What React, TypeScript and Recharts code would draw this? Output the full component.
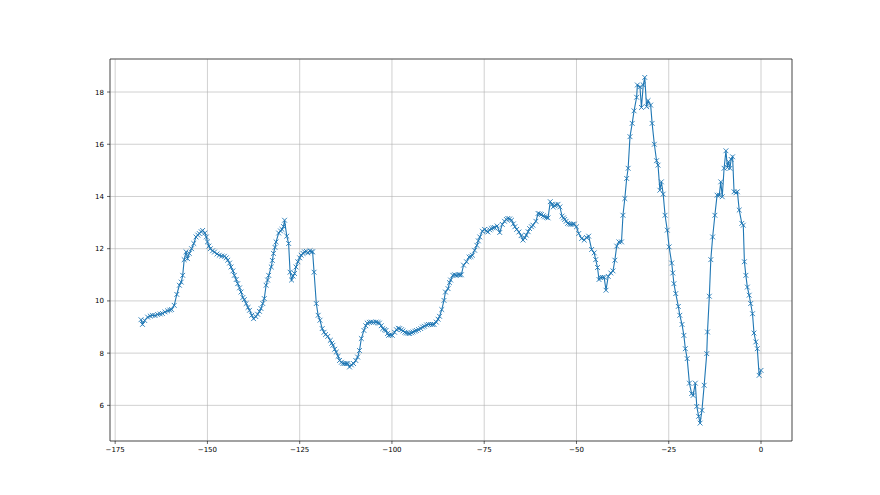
import React from 'react';
import { LineChart, Line, XAxis, YAxis, CartesianGrid, ReferenceArea } from 'recharts';

const xValues: number[] = [
  -168.0, -167.6, -167.0, -166.2, -165.5, -164.9, -164.2, -163.5, -162.8, -162.2,
  -161.5, -160.8, -160.2, -159.7, -159.0, -158.3, -157.6, -157.1, -156.7, -156.3,
  -155.8, -155.4, -154.9, -154.3, -153.7, -153.1, -152.6, -152.2, -151.7, -151.3,
  -150.7, -150.3, -150.0, -149.6, -149.2, -148.6, -148.1, -147.4, -146.8, -146.1,
  -145.4, -144.9, -144.5, -144.0, -143.6, -143.1, -142.7, -142.2, -141.8, -141.3,
  -140.9, -140.4, -140.0, -139.5, -139.0, -138.6, -138.0, -137.5, -136.9, -136.4,
  -135.9, -135.5, -135.0, -134.6, -134.1, -133.7, -133.4, -132.7, -132.4, -132.1,
  -131.7, -131.4, -130.7, -130.2, -129.8, -129.4, -129.1, -128.5, -128.0, -127.6,
  -127.2, -126.8, -126.4, -126.0, -125.5, -125.0, -124.6, -124.1, -123.7, -123.2,
  -122.8, -122.2, -121.8, -121.5, -121.1, -120.5, -120.0, -119.5, -118.9, -118.4,
  -118.0, -117.4, -116.7, -116.3, -116.0, -115.5, -115.1, -114.6, -114.2, -113.7,
  -113.3, -112.8, -112.4, -112.0, -111.5, -111.0, -110.4, -109.8, -109.3, -108.8,
  -108.3, -107.6, -107.1, -106.7, -106.1, -105.6, -105.0, -104.3, -103.8, -103.4,
  -102.9, -102.5, -102.0, -101.6, -101.2, -100.9, -100.4, -99.9, -99.3, -98.8,
  -98.3, -97.9, -97.4, -97.0, -96.5, -96.1, -95.6, -95.2, -94.7, -94.3,
  -93.8, -93.4, -92.8, -92.2, -91.7, -91.2, -90.6, -90.1, -89.5, -89.0,
  -88.6, -88.0, -87.5, -87.1, -86.5, -85.9, -85.5, -84.8, -84.4, -84.1,
  -83.5, -83.0, -82.6, -82.0, -81.6, -81.2, -80.6, -79.8, -79.1, -78.6,
  -78.2, -77.6, -77.0, -76.6, -76.2, -75.5, -74.9, -74.4, -74.0, -73.5,
  -73.1, -72.6, -72.2, -71.5, -70.8, -70.1, -69.5, -69.0, -68.6, -68.1,
  -67.6, -67.1, -66.7, -66.2, -65.6, -65.0, -64.5, -64.0, -63.6, -63.1,
  -62.7, -62.2, -61.8, -61.0, -60.4, -59.9, -59.5, -59.0, -58.6, -58.1,
  -57.7, -57.1, -56.6, -56.3, -55.9, -55.6, -55.0, -54.5, -53.9, -53.5,
  -53.2, -52.8, -52.4, -51.9, -51.5, -51.0, -50.6, -50.0, -49.4, -48.6,
  -47.9, -47.3, -46.7, -45.9, -45.2, -44.8, -44.3, -43.9, -43.5, -43.0,
  -42.5, -42.0, -41.4, -40.7, -40.1, -39.6, -39.1, -38.5, -37.8, -37.4,
  -36.9, -36.4, -36.0, -35.5, -34.9, -34.4, -33.7, -33.5, -32.8, -32.4,
  -31.9, -31.5, -31.0, -30.6, -29.9, -29.5, -28.9, -28.3, -27.9, -27.4,
  -27.0, -26.5, -26.0, -25.4, -24.9, -24.2, -23.9, -23.6, -23.1, -22.4,
  -22.0, -21.4, -20.9, -20.5, -20.0, -19.4, -18.8, -18.4, -17.8, -17.4,
  -16.9, -16.5, -16.0, -15.4, -14.7, -14.5, -14.0, -13.6, -13.1, -12.5,
  -11.9, -11.3, -10.9, -10.5, -10.0, -9.5, -9.1, -8.8, -8.4, -8.1,
  -7.7, -7.3, -6.8, -6.4, -5.9, -5.2, -4.8, -4.5, -4.1, -3.7,
  -3.2, -2.8, -2.3, -1.9, -1.4, -1.0, -0.5, 0.0,
];

const yValues: number[] = [
  9.28, 9.10, 9.25, 9.38, 9.42, 9.45, 9.44, 9.48, 9.50, 9.52,
  9.58, 9.62, 9.65, 9.67, 9.83, 10.25, 10.6, 10.72, 10.98, 11.58,
  11.88, 11.62, 11.82, 12.0, 12.2, 12.45, 12.52, 12.58, 12.65, 12.7,
  12.6, 12.45, 12.26, 12.1, 12.0, 11.92, 11.87, 11.8, 11.75, 11.72,
  11.71, 11.65, 11.56, 11.45, 11.3, 11.15, 10.98, 10.82, 10.66, 10.5,
  10.34, 10.13, 10.05, 9.9, 9.75, 9.64, 9.45, 9.32, 9.40, 9.49,
  9.6, 9.71, 9.9, 10.09, 10.6, 10.8, 10.98, 11.3, 11.55, 11.82,
  12.05, 12.26, 12.6, 12.68, 12.74, 12.85, 13.09, 12.48, 12.2, 11.1,
  10.8, 10.95, 11.05, 11.3, 11.5, 11.65, 11.75, 11.82, 11.88, 11.9,
  11.84, 11.92, 11.88, 11.88, 11.1, 9.9, 9.45, 9.26, 8.94, 8.8,
  8.71, 8.64, 8.49, 8.38, 8.3, 8.15, 8.04, 7.88, 7.72, 7.65,
  7.6, 7.6, 7.6, 7.6, 7.47, 7.55, 7.6, 7.72, 7.85, 8.1,
  8.56, 8.87, 9.05, 9.15, 9.18, 9.19, 9.18, 9.19, 9.17, 9.15,
  9.05, 8.94, 8.9, 8.87, 8.75, 8.68, 8.7, 8.68, 8.8, 8.9,
  8.95, 8.94, 8.9, 8.85, 8.8, 8.77, 8.76, 8.75, 8.78, 8.81,
  8.84, 8.87, 8.9, 8.94, 9.0, 9.03, 9.08, 9.1, 9.1, 9.1,
  9.1, 9.19, 9.3, 9.41, 9.67, 10.02, 10.34, 10.47, 10.7, 10.8,
  10.98, 11.0, 10.98, 11.0, 11.0, 11.0, 11.37, 11.5, 11.68, 11.7,
  11.75, 11.94, 12.13, 12.3, 12.45, 12.67, 12.74, 12.68, 12.64, 12.72,
  12.77, 12.8, 12.81, 12.87, 12.62, 12.93, 13.05, 13.12, 13.16, 13.14,
  13.09, 12.95, 12.84, 12.74, 12.64, 12.5, 12.33, 12.42, 12.52, 12.65,
  12.77, 12.84, 12.9, 13.05, 13.35, 13.33, 13.31, 13.26, 13.22, 13.2,
  13.18, 13.8, 13.7, 13.6, 13.65, 13.69, 13.7, 13.6, 13.25, 13.18,
  13.12, 13.05, 12.97, 12.95, 12.93, 12.94, 12.94, 12.84, 12.58, 12.39,
  12.33, 12.43, 12.48, 11.97, 11.84, 11.58, 11.28, 10.82, 10.9, 10.9,
  10.9, 10.41, 10.94, 11.07, 11.15, 11.56, 12.1, 12.26, 12.26, 13.28,
  13.92, 14.69, 15.08, 16.29, 16.8, 17.28, 17.8, 18.27, 18.2, 17.41,
  18.27, 18.56, 17.44, 17.67, 17.5, 16.8, 16.0, 15.37, 15.2, 14.24,
  14.56, 14.09, 13.28, 12.71, 12.07, 11.45, 11.07, 10.66, 10.28, 9.79,
  9.45, 9.1, 8.68, 8.17, 7.79, 6.85, 6.45, 6.38, 6.85, 5.96,
  5.58, 5.32, 5.81, 6.77, 7.98, 8.81, 10.18, 11.58, 12.45, 13.28,
  14.05, 14.05, 14.56, 13.99, 15.08, 15.75, 15.11, 15.33, 15.08, 15.42,
  15.52, 14.18, 14.14, 14.18, 13.48, 12.97, 12.9, 11.5, 10.98, 10.53,
  10.22, 9.9, 9.51, 8.77, 8.43, 8.17, 7.15, 7.34,
];

const xTicks: number[] = [-175, -150, -125, -100, -75, -50, -25, 0];
const yTicks: number[] = [6, 8, 10, 12, 14, 16, 18];

const data = xValues.map((x, i) => ({ x, y: yValues[i] }));

const X_DOMAIN: [number, number] = [-176.4, 8.4];
const Y_DOMAIN: [number, number] = [4.635, 19.265];

const COLOR = '#1f77b4';
const fmt = (v: number) => String(v).replace('-', '\u2212');

const XMarker = (props: any) => {
  const { cx, cy } = props;
  if (cx == null || cy == null) return null;
  const s = 2.4;
  return (
    <g key={`m-${props.index}`}>
      <line x1={cx - s} y1={cy - s} x2={cx + s} y2={cy + s} stroke={COLOR} strokeWidth={0.9} />
      <line x1={cx - s} y1={cy + s} x2={cx + s} y2={cy - s} stroke={COLOR} strokeWidth={0.9} />
    </g>
  );
};

const tickStyle = { fontSize: 7, fill: '#000', fontFamily: 'DejaVu Sans' };

export default function App() {
  return (
    <div style={{ position: 'absolute', left: 0, top: 0, width: 880, height: 495, background: '#fff' }}>
      <LineChart width={880} height={495} data={data} margin={{ top: 59, right: 88, left: 70, bottom: 24 }}>
        <CartesianGrid stroke="#b0b0b0" strokeWidth={0.6} />
        <XAxis
          dataKey="x"
          type="number"
          domain={X_DOMAIN}
          ticks={xTicks}
          tickFormatter={fmt}
          allowDataOverflow
          height={30}
          tickSize={3}
          tickMargin={3}
          tick={tickStyle}
          tickLine={{ stroke: '#000', strokeWidth: 0.6 }}
          axisLine={false}
        />
        <YAxis
          type="number"
          domain={Y_DOMAIN}
          ticks={yTicks}
          allowDataOverflow
          width={40}
          tickSize={3}
          tickMargin={3}
          tick={tickStyle}
          tickLine={{ stroke: '#000', strokeWidth: 0.6 }}
          axisLine={false}
        />
        <ReferenceArea
          x1={X_DOMAIN[0]}
          x2={X_DOMAIN[1]}
          y1={Y_DOMAIN[0]}
          y2={Y_DOMAIN[1]}
          fill="none"
          fillOpacity={0}
          stroke="#222"
          strokeWidth={0.7}
        />
        <Line
          type="linear"
          dataKey="y"
          stroke={COLOR}
          strokeWidth={1.1}
          dot={XMarker}
          activeDot={false}
          isAnimationActive={false}
        />
      </LineChart>
    </div>
  );
}
